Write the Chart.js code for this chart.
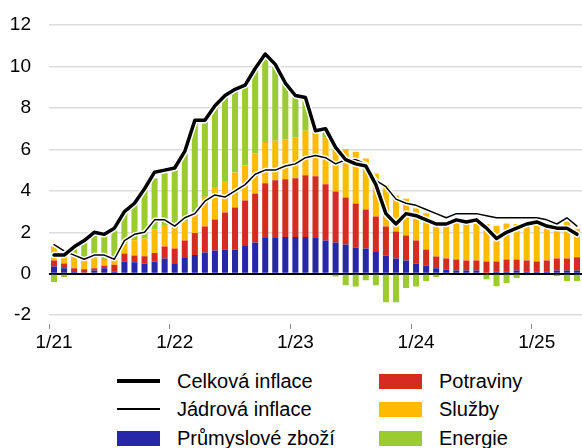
<!DOCTYPE html>
<html>
<head>
<meta charset="utf-8">
<script src="https://cdn.jsdelivr.net/npm/chart.js@4"></script>
<style>
  body { margin: 0; background: #fff; font-family: "Liberation Sans", Arial, sans-serif; }
  #wrap { position: relative; width: 582px; height: 448px; }
  #box { position: absolute; left: 0; top: 0; width: 582px; height: 362px; }
  .leg { position: absolute; font-size: 20px; color: #000; line-height: 24px; white-space: nowrap; }
  .sym { position: absolute; }
</style>
</head>
<body>
<div id="wrap">
  <div id="box"><canvas id="myChart"></canvas></div>
  <div id="legend"></div>
</div>
<script>
// months 1/21 .. 5/25
let labels = [
  "1/21","2/21","3/21","4/21","5/21","6/21","7/21","8/21","9/21","10/21","11/21","12/21",
  "1/22","2/22","3/22","4/22","5/22","6/22","7/22","8/22","9/22","10/22","11/22","12/22",
  "1/23","2/23","3/23","4/23","5/23","6/23","7/23","8/23","9/23","10/23","11/23","12/23",
  "1/24","2/24","3/24","4/24","5/24","6/24","7/24","8/24","9/24","10/24","11/24","12/24",
  "1/25","2/25","3/25","4/25","5/25"
];

let celkova = [0.9,0.9,1.3,1.6,2.0,1.9,2.2,3.0,3.4,4.1,4.9,5.0,
  5.1,5.9,7.4,7.4,8.1,8.6,8.9,9.1,9.9,10.6,10.1,9.2,
  8.6,8.5,6.9,7.0,6.1,5.5,5.3,5.2,4.3,2.9,2.4,2.9,
  2.8,2.6,2.4,2.4,2.6,2.5,2.6,2.2,1.7,2.0,2.2,2.4,
  2.5,2.3,2.2,2.2,1.9];

let jadrova = [1.4,1.1,0.9,0.7,0.9,0.9,0.7,1.6,1.9,2.0,2.6,2.6,
  2.3,2.7,2.9,3.5,3.8,3.7,4.0,4.3,4.8,5.0,5.0,5.2,
  5.3,5.6,5.7,5.6,5.3,5.5,5.5,5.3,4.5,4.2,3.6,3.4,
  3.3,3.1,2.9,2.7,2.9,2.9,2.9,2.8,2.7,2.7,2.7,2.7,
  2.7,2.6,2.4,2.7,2.3];

let prumysl = [0.35,0.27,0.08,0.06,0.16,0.27,0.11,0.59,0.55,0.5,0.59,0.74,
  0.51,0.79,0.9,1.03,1.12,1.17,1.17,1.37,1.51,1.72,1.72,1.77,
  1.77,1.77,1.72,1.6,1.51,1.41,1.27,1.22,1.08,0.88,0.74,0.64,
  0.5,0.4,0.26,0.21,0.16,0.16,0.16,0.05,0.11,0.11,0.16,0.11,
  0.11,0.11,0.16,0.16,0.16];

let potraviny = [0.29,0.23,0.19,0.16,0.11,0.12,0.32,0.39,0.33,0.34,0.41,0.58,
  0.71,0.81,1.06,1.25,1.5,1.79,2.03,2.16,2.36,2.65,2.79,2.79,
  2.84,2.98,2.98,2.72,2.46,2.27,2.12,1.88,1.68,1.4,1.3,1.21,
  1.1,0.77,0.57,0.52,0.53,0.48,0.48,0.54,0.48,0.58,0.53,0.53,
  0.48,0.53,0.58,0.58,0.63];

let sluzby = [0.68,0.35,0.57,0.45,0.48,0.27,0.23,0.47,0.73,0.86,1.15,1.03,
  0.98,0.92,0.93,1.43,1.57,1.52,1.68,1.69,1.93,1.98,1.9,1.93,
  1.98,2.15,2.2,2.26,2.21,2.34,2.5,2.46,2.07,1.99,1.73,1.77,
  1.56,1.75,1.73,1.57,1.76,1.78,1.8,1.81,1.72,1.73,1.71,1.72,
  1.72,1.61,1.33,1.78,1.38];

let energie = [-0.4,-0.16,0.48,0.92,1.16,1.2,1.43,1.51,1.76,2.4,2.46,2.5,
  2.8,3.33,4.45,3.63,3.8,4.07,3.9,3.9,4.2,4.2,3.58,2.7,
  2.04,1.64,-0.05,0.27,-0.13,-0.56,-0.61,-0.31,-0.56,-1.38,-1.38,-0.69,
  -0.61,-0.35,-0.16,-0.04,0,0,0,-0.26,-0.6,-0.45,-0.21,0,
  0.13,0,-0.11,-0.35,-0.35];

let yTicks = [-2, 0, 2, 4, 6, 8, 10, 12];

const cBlue = "#2727a9";
const cRed = "#d62b20";
const cYellow = "#ffbb00";
const cGreen = "#9bcb30";
const font = "'Liberation Sans', Arial, sans-serif";

function bar(label, data, color) {
  return {
    type: "bar", label: label, data: data, backgroundColor: color,
    stack: "bars", order: 10, barPercentage: 0.6, categoryPercentage: 1.0
  };
}
// every line gets its own stack so it is not added on top of the bars
function line(label, data, color, width, order) {
  return {
    type: "line", label: label, data: data, borderColor: color, borderWidth: width,
    pointRadius: 0, tension: 0, fill: false, order: order, stack: "ln" + order,
    borderJoinStyle: "round", borderCapStyle: "round"
  };
}

new Chart("myChart", {
  data: {
    labels: labels,
    datasets: [
      bar("Průmyslové zboží", prumysl, cBlue),
      bar("Potraviny", potraviny, cRed),
      bar("Služby", sluzby, cYellow),
      bar("Energie", energie, cGreen),
      line("halo1", jadrova, "#ffffff", 4.5, 4),
      line("Jádrová inflace", jadrova, "#000000", 1.5, 3),
      line("halo2", celkova, "#ffffff", 6.5, 2),
      line("Celková inflace", celkova, "#000000", 3.5, 1),
    ],
  },
  options: {
    responsive: true,
    maintainAspectRatio: false,
    animation: false,
    layout: { padding: { left: 10, right: 0, top: 25, bottom: 6 } },
    plugins: { legend: { display: false }, tooltip: { enabled: false } },
    scales: {
      x: {
        stacked: true,
        offset: true,
        border: { display: false },
        grid: {
          drawOnChartArea: false,
          drawTicks: true,
          tickLength: 14,
          tickWidth: 1,
          tickBorderDash: [0, 9, 5, 100],
          tickColor: (c) => (c.index % 12 === 0 ? "#888" : "rgba(0,0,0,0)"),
        },
        ticks: {
          autoSkip: false,
          maxRotation: 0,
          padding: 2,
          color: "#000",
          font: { family: font, size: 19 },
          callback: function (v, i) { return i % 12 === 0 ? labels[i] : ""; },
        },
      },
      y: {
        stacked: true,
        min: -2,
        max: 12,
        afterBuildTicks: (axis) => { axis.ticks = yTicks.map((v) => ({ value: v })); },
        afterFit: (axis) => {
          axis.width = 39;
          axis.paddingTop = 0;
          axis.paddingBottom = 0;
        },
        border: { display: false },
        grid: {
          drawTicks: false,
          lineWidth: (c) => (c.tick && c.tick.value === 0 ? 2 : 1.5),
          color: (c) => (c.tick && c.tick.value === 0 ? "#000" : "#dcdcdc"),
        },
        ticks: { padding: 18, color: "#000", font: { family: font, size: 19 } },
      },
    },
  },
});

// legend in two columns
let legItems = [
  { t: "Celková inflace", kind: "line", w: 3.5, x: 117, y: 381 },
  { t: "Jádrová inflace", kind: "line", w: 1.5, x: 117, y: 409 },
  { t: "Průmyslové zboží", kind: "box", c: cBlue, x: 117, y: 438 },
  { t: "Potraviny", kind: "box", c: cRed, x: 379, y: 381 },
  { t: "Služby", kind: "box", c: cYellow, x: 379, y: 409 },
  { t: "Energie", kind: "box", c: cGreen, x: 379, y: 438 },
];
let legEl = document.getElementById("legend");
legItems.forEach((it) => {
  let s = document.createElement("div");
  s.className = "sym";
  s.style.left = it.x + "px";
  s.style.width = "43px";
  if (it.kind === "line") {
    s.style.top = it.y - it.w / 2 + "px";
    s.style.height = it.w + "px";
    s.style.background = "#000";
  } else {
    s.style.top = it.y - 7.5 + "px";
    s.style.height = "15px";
    s.style.background = it.c;
  }
  legEl.appendChild(s);
  let t = document.createElement("div");
  t.className = "leg";
  t.textContent = it.t;
  t.style.left = it.x + 60 + "px";
  t.style.top = it.y - 12 + "px";
  legEl.appendChild(t);
});
</script>
</body>
</html>
